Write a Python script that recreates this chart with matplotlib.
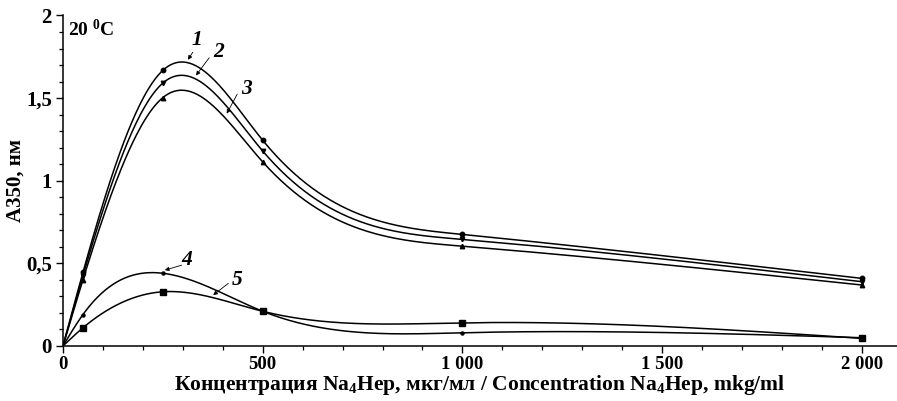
import numpy as np
import matplotlib
matplotlib.use("Agg")
import matplotlib.pyplot as plt
from matplotlib.ticker import MultipleLocator

plt.rcParams['font.family'] = ['Liberation Serif', 'DejaVu Serif']
plt.rcParams['mathtext.fontset'] = 'custom'
plt.rcParams['mathtext.rm'] = 'Liberation Serif:bold'
plt.rcParams['mathtext.bf'] = 'Liberation Serif:bold'
plt.rcParams['mathtext.it'] = 'Liberation Serif:bold:italic'

# ---- data ----
conc = [0, 50, 250, 500, 1000, 2000]
curve1 = [0, 0.445, 1.668, 1.245, 0.675, 0.409]
curve2 = [0, 0.425, 1.591, 1.180, 0.645, 0.389]
curve3 = [0, 0.400, 1.503, 1.114, 0.604, 0.369]
curve4 = [0, 0.190, 0.440, 0.210, 0.080, 0.050]
curve5 = [0, 0.110, 0.328, 0.210, 0.140, 0.046]
series = [curve1, curve2, curve3, curve4, curve5]
markers = ['o', 'v', '^', 'o', 's']
msizes = [3.2, 3.2, 3.2, 2.2, 4.2]
labels = ['1', '2', '3', '4', '5']
# label text position, arrow tail, arrow head (data coords)
label_text = [(334, 1.85), (389, 1.78), (460, 1.557), (310, 0.52), (435, 0.40)]
arrow_tail = [(325, 1.778), (366, 1.744), (436, 1.523), (297, 0.489), (414, 0.379)]
arrow_head = [(313, 1.732), (333, 1.637), (410, 1.406), (255, 0.459), (376, 0.308)]
xticks = [0, 500, 1000, 1500, 2000]
xticklabels = ['0', '500', '1 000', '1 500', '2 000']
yticks = [0, 0.5, 1, 1.5, 2]
yticklabels = ['0', '0,5', '1', '1,5', '2']


def natural_spline(x, y, xs):
    x = np.asarray(x, float)
    y = np.asarray(y, float)
    n = len(x)
    h = np.diff(x)
    A = np.zeros((n, n))
    b = np.zeros(n)
    A[0, 0] = 1
    A[-1, -1] = 1
    for i in range(1, n - 1):
        A[i, i - 1] = h[i - 1]
        A[i, i] = 2 * (h[i - 1] + h[i])
        A[i, i + 1] = h[i]
        b[i] = 3 * ((y[i + 1] - y[i]) / h[i] - (y[i] - y[i - 1]) / h[i - 1])
    c = np.linalg.solve(A, b)
    bb = np.zeros(n - 1)
    d = np.zeros(n - 1)
    for i in range(n - 1):
        bb[i] = (y[i + 1] - y[i]) / h[i] - h[i] * (2 * c[i] + c[i + 1]) / 3
        d[i] = (c[i + 1] - c[i]) / (3 * h[i])
    idx = np.clip(np.searchsorted(x, xs) - 1, 0, n - 2)
    dx = xs - x[idx]
    return y[idx] + bb[idx] * dx + c[idx] * dx ** 2 + d[idx] * dx ** 3


fig = plt.figure(figsize=(8.97, 4.01), dpi=100)
ax = fig.add_axes([0.0702, 0.1372, 0.9298, 0.8254])

xs = np.linspace(0, 2000, 800)
for ys, m, ms in zip(series, markers, msizes):
    ax.plot(xs, natural_spline(conc, ys, xs), color='black', lw=1.1)
    ax.plot(conc[1:], ys[1:], linestyle='none', marker=m, ms=ms, color='black')

for lab, tp, tl, hd in zip(labels, label_text, arrow_tail, arrow_head):
    ax.text(tp[0], tp[1], lab, fontsize=15.5, fontstyle='italic', fontweight='bold',
            ha='center', va='center')
    ax.annotate('', xy=hd, xytext=tl,
                arrowprops=dict(arrowstyle='-|>', lw=0.6, color='black',
                                mutation_scale=6, shrinkA=0, shrinkB=0))

ax.text(0.006, 0.955, r'20 $^{\mathbf{0}}$C', transform=ax.transAxes,
        fontsize=14, fontweight='bold', ha='left', va='center')

ax.set_xlim(0, 2088)
ax.set_ylim(0, 2.003)
ax.spines['top'].set_visible(False)
ax.spines['right'].set_visible(False)
ax.spines['left'].set_linewidth(1.1)
ax.spines['bottom'].set_linewidth(1.1)
ax.set_xticks(xticks)
ax.set_xticklabels(xticklabels)
ax.set_yticks(yticks)
ax.set_yticklabels(yticklabels)
ax.xaxis.set_minor_locator(MultipleLocator(100))
ax.yaxis.set_minor_locator(MultipleLocator(0.1))
ax.tick_params(which='major', length=5, width=1.0, direction='out')
ax.tick_params(which='minor', length=3, width=0.9, direction='out')
for t in ax.get_xticklabels() + ax.get_yticklabels():
    t.set_fontweight('bold')
for t in ax.get_xticklabels():
    t.set_fontsize(13.5)
for t in ax.get_yticklabels():
    t.set_fontsize(15)
ax.tick_params(axis='x', pad=2)
ax.tick_params(axis='y', pad=3)

ax.set_xlabel(r'Концентрация Na$_4$Hep, мкг/мл / Concentration Na$_4$Hep, mkg/ml',
              fontsize=15.5, fontweight='bold')
ax.xaxis.set_label_coords(0.5, -0.083)
ax.xaxis.label.set_verticalalignment('top')
ax.set_ylabel('A350, нм', fontsize=15, fontweight='bold')
ax.yaxis.set_label_coords(-0.045, 0.5)

fig.savefig('out.png', dpi=100)
